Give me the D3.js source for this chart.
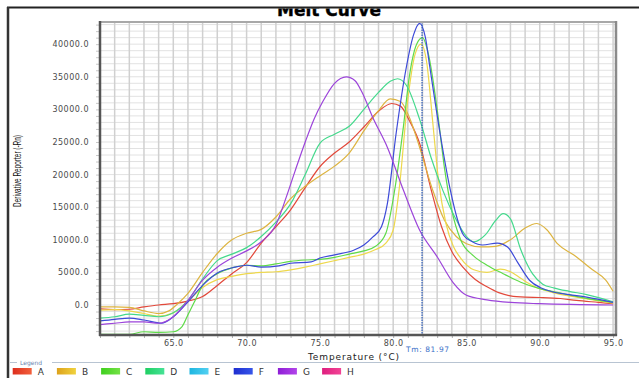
<!DOCTYPE html>
<html><head><meta charset="utf-8">
<script src="https://cdn.jsdelivr.net/npm/d3@7"></script>
<style>html,body{margin:0;padding:0;background:#fff;}svg{display:block;}</style>
</head><body>
<script>
// ---- data (temperature °C, derivative reporter) ----
const legendNames = ["A","B","C","D","E","F","G","H"];
const legendColors = [["#DD2E1E","#F2603C"],["#DDA21C","#F0D23E"],["#3ECF1E","#74E246"],["#1ECF62","#46E296"],["#1EB6E0","#52D0F2"],["#1E2ED0","#3656EA"],["#8E1ED6","#B244EA"],["#DE1E7E","#F24496"]];
const xTickLabels = [65, 70, 75, 80, 85, 90, 95];
const yTickLabels = [0, 5000, 10000, 15000, 20000, 25000, 30000, 35000, 40000];
const tmValue = 81.97;

const seriesA = [[60,-600],[61,-700],[62,-650],[63,-300],[64,0],[65,200],[66,600],[67,1300],[68,3000],[69,4800],[70,6500],[71,9500],[72,12000],[73,14600],[74,18000],[75,21200],[76,23300],[77,25000],[78,27300],[79,29700],[79.9,30900],[80.5,30500],[81.1,28300],[81.8,24800],[82.6,17600],[83.3,12000],[84,8200],[84.8,5700],[85.6,3900],[86.4,2800],[87.2,1900],[88,1400],[89,1200],[90,1150],[91.4,1000],[92.5,700],[94,400],[95,200]];
const seriesB = [[60,-300],[61,-300],[62,-350],[63,-900],[64,-1300],[64.7,-900],[65.3,200],[66,1800],[67,5000],[68,7900],[69,10000],[70,11000],[71,11600],[72,13500],[73,16300],[74,18200],[75,19800],[76,21300],[77,23300],[78,26700],[79,29800],[79.8,31600],[80.5,31200],[81.1,28800],[81.8,24200],[82.7,17600],[83.5,13000],[84.3,10500],[85,9400],[86,8900],[87,9000],[88,10000],[89,11800],[89.8,12500],[90.5,11500],[91.2,9400],[92.3,7700],[93.6,5400],[94.5,3800],[95,2100]];
const seriesB2 = [[60,-800],[61,-700],[62,-900],[63,-1300],[64,-1700],[65,-1200],[66,600],[67,2700],[68,3900],[69,4400],[70,4800],[71,5000],[72,5100],[73,5400],[74,5800],[75,6300],[76,6800],[77,7300],[78,7800],[78.8,8500],[79.5,9500],[80,11500],[80.4,17600],[81,31500],[81.5,38500],[81.9,40000],[82.3,37000],[82.7,28000],[83.1,19000],[83.6,12500],[84.1,9000],[84.6,7200],[85.5,5400],[86.4,5000],[87.3,5500],[88,5100],[88.7,4100],[89.5,3000],[90.9,1900],[92.5,1200],[95,300]];
const seriesC = [[60,-4500],[61,-4500],[62,-4500],[63,-4100],[64,-4200],[65,-4100],[65.6,-3300],[66,-1500],[66.4,300],[67,3000],[68,4800],[69,5700],[70,6100],[71,6000],[72,6300],[73,6700],[74,6900],[75,7000],[76,7300],[77,7800],[78,8300],[78.8,9000],[79.5,11000],[80.1,17600],[80.7,27400],[81.1,35000],[81.6,40000],[82,41000],[82.4,38500],[83,30000],[83.5,21000],[84,14500],[84.6,10000],[85.5,7500],[86.4,6100],[87.5,4800],[88.7,3500],[90,2500],[91.5,1800],[93,1100],[95,400]];
const seriesD = [[60,-2000],[61,-1800],[62,-1400],[63,-1600],[64,-1800],[65,-1200],[66,700],[67,4000],[68,6800],[69,7800],[70,8800],[71,10500],[72,12700],[73,15500],[74,20000],[75,24800],[76,26200],[77,27400],[78,30000],[79,32600],[79.8,34300],[80.3,34700],[80.9,33700],[81.8,28500],[82.6,22500],[83.4,17500],[84.2,13500],[85,10500],[85.5,9700],[86.3,10800],[87,13000],[87.5,14000],[88,13200],[88.7,8500],[89.5,4800],[90.2,3200],[91,2600],[92,2100],[93.2,1600],[95,500]];
const seriesF = [[60,-2450],[61,-2200],[62,-2000],[63,-2300],[64.2,-2800],[65,-1800],[66,500],[67,3000],[68,4900],[69.2,5800],[70,6100],[71,5800],[72.2,6000],[73,6400],[74.4,6600],[75,7200],[76,7700],[77.3,8400],[78,9200],[78.6,10400],[79.2,12000],[79.6,15500],[80.2,26300],[80.9,36500],[81.4,41500],[81.8,43200],[82.2,41000],[82.5,36500],[83.2,26300],[83.9,17600],[84.4,13000],[84.8,10700],[85.4,9700],[86.1,9200],[87.1,9500],[87.8,8900],[88.5,6500],[89.3,3800],[90.1,2600],[90.9,2000],[92,1600],[93.2,1200],[95,400]];
const seriesG = [[60,-3000],[61,-2800],[62,-2600],[63,-2600],[64,-2800],[65,-1800],[66,700],[67,3800],[68,5800],[69,7200],[70,8300],[71,9700],[72,12300],[72.7,16500],[73.3,20500],[74,25000],[74.6,28500],[75.2,31200],[76,34000],[76.8,35000],[77.4,34400],[77.9,32500],[78.6,28800],[79.6,24200],[80.7,17600],[81.8,11500],[83,7400],[84.1,3400],[85,1500],[86.4,800],[88,400],[90,200],[95,0]];

const curves = [
  {name:"A", data:seriesA, color:"#E2483A"},
  {name:"B", data:seriesB, color:"#DDB440"},
  {name:"B", data:seriesB2, color:"#EED84C"},
  {name:"C", data:seriesC, color:"#5EDB48"},
  {name:"D", data:seriesD, color:"#44D98C"},
  {name:"F", data:seriesF, color:"#3D4AD8"},
  {name:"G", data:seriesG, color:"#9C44DA"}
];

const W = 639, H = 378;
const svg = d3.select("body").append("svg").attr("width", W).attr("height", H)
  .style("font-family", "'DejaVu Sans', sans-serif");

const x = d3.scaleLinear().domain([60, 95.2]).range([100, 616]);
const y = d3.scaleLinear().domain([-4600, 43400]).range([335, 22]);

const defs = svg.append("defs");
defs.append("clipPath").attr("id","titleClip").append("rect").attr("x",0).attr("y",8.5).attr("width",W).attr("height",20);
defs.append("clipPath").attr("id","plotClip").append("rect").attr("x",100).attr("y",22).attr("width",516).attr("height",313);
legendColors.forEach((c,i)=>{
  const g = defs.append("linearGradient").attr("id","lg"+i);
  g.append("stop").attr("offset","0%").attr("stop-color",c[0]);
  g.append("stop").attr("offset","100%").attr("stop-color",c[1]);
});

// outer frame
svg.append("line").attr("x1",7).attr("x2",W).attr("y1",7.5).attr("y2",7.5).attr("stroke","#222").attr("stroke-width",2);
svg.append("line").attr("x1",8).attr("x2",8).attr("y1",7).attr("y2",H).attr("stroke","#333").attr("stroke-width",2.5);

// title (top clipped like the reference)
svg.append("text").attr("clip-path","url(#titleClip)")
  .attr("x",329).attr("y",15.5).attr("text-anchor","middle")
  .attr("font-size",17).attr("font-weight","bold").attr("fill","#000")
  .attr("stroke","#000").attr("stroke-width",0.4)
  .text("Melt Curve");

// grid
const grid = svg.append("g");
grid.selectAll("line.h").data(d3.range(-4000, 43001, 1000)).join("line")
  .attr("x1",100).attr("x2",616).attr("y1",d=>y(d)).attr("y2",d=>y(d))
  .attr("stroke","#e2e2e2").attr("stroke-width",1);
grid.selectAll("line.v").data(d3.range(61, 96, 1)).join("line")
  .attr("x1",d=>x(d)).attr("x2",d=>x(d)).attr("y1",22).attr("y2",335)
  .attr("stroke","#d0d0d0").attr("stroke-width",1.5);

// curves
const line = d3.line().x(d=>x(d[0])).y(d=>y(d[1])).curve(d3.curveMonotoneX);
svg.append("g").attr("clip-path","url(#plotClip)")
  .selectAll("path").data(curves).join("path")
  .attr("d", d=>line(d.data)).attr("fill","none")
  .attr("stroke", d=>d.color).attr("stroke-width",1.2);

// Tm line
svg.append("line").attr("x1",x(tmValue)).attr("x2",x(tmValue)).attr("y1",22).attr("y2",335)
  .attr("stroke","#2c5cbc").attr("stroke-width",1.2).attr("stroke-dasharray","1.5,1");
svg.append("text").attr("x",x(tmValue)-16).attr("y",351.5).attr("text-anchor","start")
  .attr("font-size",7.5).attr("letter-spacing",0.6).attr("fill","#3a6fc8").text("Tm: " + tmValue.toFixed(2));

// axes
const yAxis = d3.axisLeft(y).tickValues(d3.range(-4000, 43001, 1000)).tickSize(4).tickPadding(7)
  .tickFormat(d => yTickLabels.includes(d) ? d3.format(".1f")(d) : "");
const gy = svg.append("g").attr("transform","translate(100,0)").call(yAxis);
gy.select(".domain").remove();
gy.selectAll(".tick line").attr("stroke","#c8c8c8");
gy.selectAll(".tick text").attr("font-size",8).attr("letter-spacing",0.5).attr("fill","#4a4a4a")
  .attr("font-family","'DejaVu Sans', sans-serif");

const xAxis = d3.axisBottom(x).tickValues(d3.range(60, 96, 1)).tickSize(3).tickPadding(2.5)
  .tickFormat(d => xTickLabels.includes(d) ? d3.format(".1f")(d) : "");
const gx = svg.append("g").attr("transform","translate(0,335)").call(xAxis);
gx.select(".domain").remove();
gx.selectAll(".tick line").attr("stroke","#b0b0b0");
gx.selectAll(".tick text").attr("font-size",8).attr("letter-spacing",0.5).attr("fill","#4a4a4a")
  .attr("font-family","'DejaVu Sans', sans-serif");

// plot borders
svg.append("line").attr("x1",99).attr("x2",617).attr("y1",22).attr("y2",22).attr("stroke","#a8a8a8").attr("stroke-width",2);
svg.append("line").attr("x1",616).attr("x2",616).attr("y1",21).attr("y2",336).attr("stroke","#8a8a8a").attr("stroke-width",2.5);
svg.append("line").attr("x1",100).attr("x2",100).attr("y1",21).attr("y2",336).attr("stroke","#555").attr("stroke-width",2.5);
svg.append("line").attr("x1",99).attr("x2",617).attr("y1",335).attr("y2",335).attr("stroke","#555").attr("stroke-width",2.5);

// axis titles
svg.append("text").attr("transform","translate(21,171) rotate(-90)").attr("text-anchor","middle")
  .attr("font-family","'Liberation Sans', Arial, sans-serif").attr("font-size",10.5).attr("fill","#111")
  .attr("textLength",72).attr("lengthAdjust","spacingAndGlyphs")
  .text("Derivative Reporter (-Rn)");
svg.append("text").attr("x",354).attr("y",359.5).attr("text-anchor","middle")
  .attr("font-size",9).attr("letter-spacing",0.9).attr("fill","#222")
  .text("Temperature (°C)");

// legend
svg.append("line").attr("x1",10).attr("x2",17).attr("y1",362.5).attr("y2",362.5).attr("stroke","#b8c4d2");
svg.append("line").attr("x1",52).attr("x2",W).attr("y1",362.5).attr("y2",362.5).attr("stroke","#b8c4d2");
svg.append("text").attr("x",20).attr("y",364.5).attr("font-size",6).attr("fill","#6a86b0").text("Legend");
const lg = svg.append("g").selectAll("g").data(legendNames).join("g")
  .attr("transform",(d,i)=>`translate(${12.7 + i*44.2},368)`);
lg.append("rect").attr("width",19).attr("height",6.5).attr("fill",(d,i)=>`url(#lg${i})`);
lg.append("text").attr("x",25).attr("y",6.8).attr("font-size",9).attr("fill","#333").text(d=>d);
</script>
</body></html>
